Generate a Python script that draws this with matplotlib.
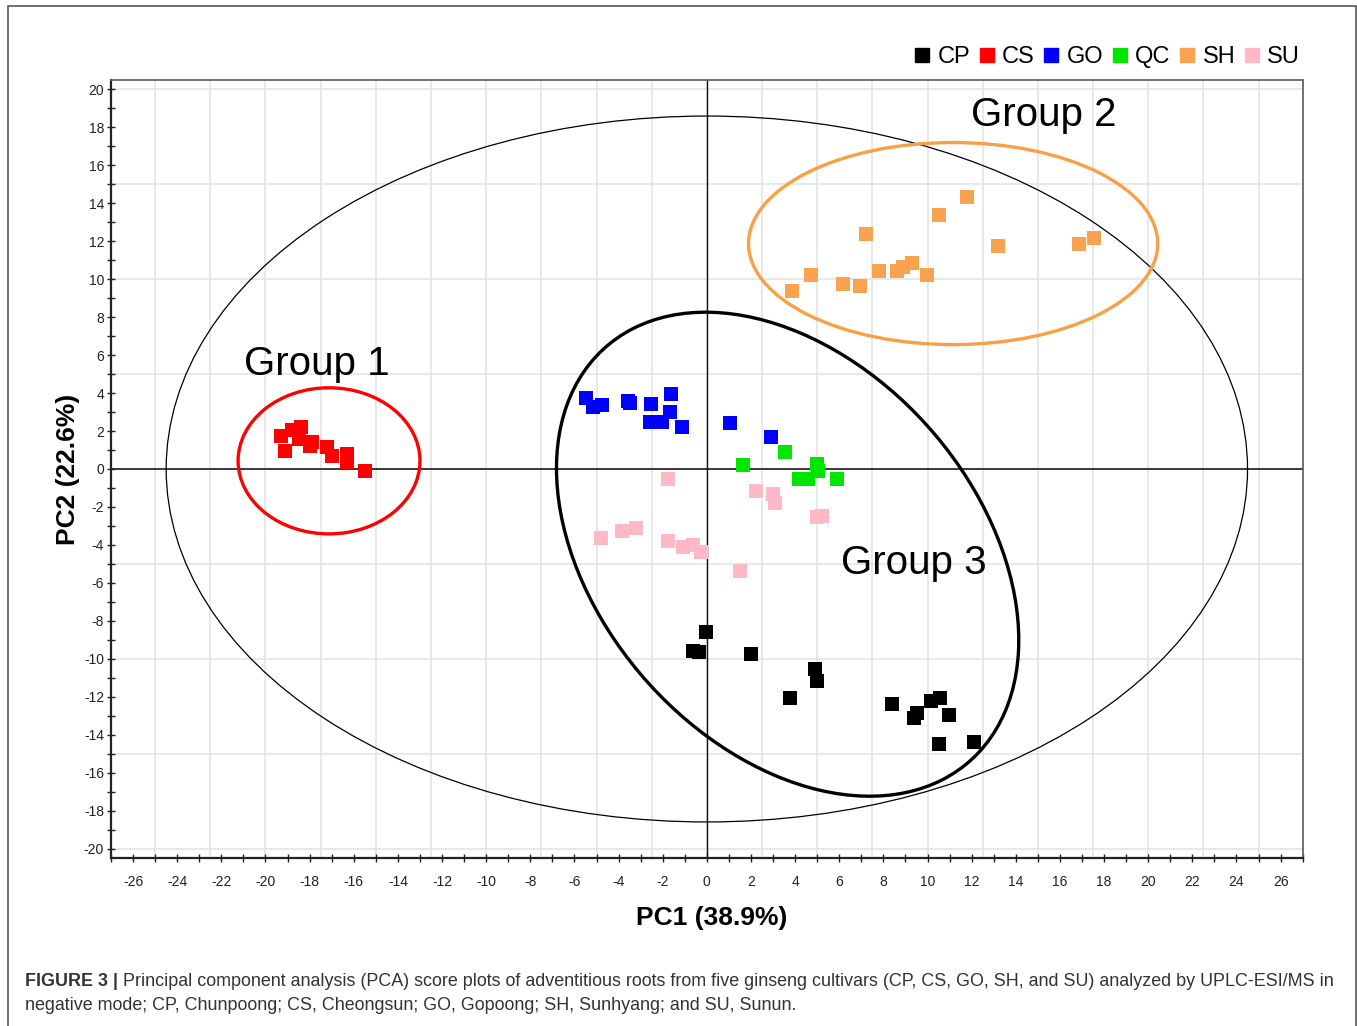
import matplotlib
matplotlib.use("Agg")
import matplotlib.pyplot as plt
from matplotlib.patches import Ellipse, Rectangle
from matplotlib.lines import Line2D
from matplotlib.ticker import MultipleLocator

plt.rcParams['font.family'] = ['Liberation Sans', 'DejaVu Sans']
plt.rcParams['axes.unicode_minus'] = False

# ---- data (PC1, PC2 scores) ----
cp_x = [-0.05, -0.65, -0.35, 2.02, 4.88, 4.98, 3.75, 8.39, 9.40, 9.50, 10.15, 10.56, 10.98, 10.50, 12.11]
cp_y = [-8.57, -9.59, -9.64, -9.76, -10.55, -11.17, -12.05, -12.37, -13.10, -12.84, -12.23, -12.05, -12.98, -14.48, -14.39]

cs_x = [-19.3, -19.1, -18.8, -18.4, -18.5, -18.0, -17.9, -17.2, -17.0, -16.3, -16.3, -15.5]
cs_y = [1.74, 0.95, 2.06, 2.20, 1.60, 1.20, 1.40, 1.16, 0.70, 0.80, 0.35, -0.10]

go_x = [-5.47, -5.16, -4.76, -3.56, -3.48, -2.54, -1.63, -1.67, -2.58, -2.05, -1.14, 1.04, 2.89]
go_y = [3.73, 3.26, 3.38, 3.60, 3.48, 3.43, 3.96, 3.02, 2.46, 2.46, 2.20, 2.41, 1.67]

qc_x = [3.52, 1.64, 4.98, 5.03, 4.17, 4.58, 5.89]
qc_y = [0.88, 0.23, 0.26, -0.09, -0.53, -0.53, -0.53]

sh_x = [3.87, 4.70, 6.19, 6.96, 7.22, 7.79, 8.62, 8.87, 9.29, 9.97, 10.53, 11.81, 13.19, 16.85, 17.56]
sh_y = [9.36, 10.24, 9.76, 9.64, 12.36, 10.41, 10.46, 10.64, 10.87, 10.24, 13.37, 14.34, 11.73, 11.84, 12.19]

su_x = [-1.75, -4.80, -3.85, -3.22, -1.75, -1.07, -0.62, -0.28, 1.52, 2.21, 3.00, 3.07, 4.98, 5.23]
su_y = [-0.53, -3.61, -3.25, -3.13, -3.82, -4.13, -3.99, -4.36, -5.37, -1.14, -1.32, -1.79, -2.55, -2.46]

groups = ["CP", "CS", "GO", "QC", "SH", "SU"]
colors = ["#000000", "#FF0000", "#0000FF", "#00E600", "#F9A24F", "#FFB8C6"]
xs = [cp_x, cs_x, go_x, qc_x, sh_x, su_x]
ys = [cp_y, cs_y, go_y, qc_y, sh_y, su_y]

# ellipses: (cx, cy, width, height, angle)
t2_ellipse = (0.0, 0.0, 49.0, 37.2, 0.0)
g1_ellipse = (-17.12, 0.43, 8.24, 7.70, 0.0)
g2_ellipse = (11.16, 11.88, 18.54, 10.65, 0.0)
g3_ellipse = (3.66, -4.49, 27.6, 18.1, -59.6)

group_labels = ["Group 1", "Group 2", "Group 3"]
group_label_pos = [(-17.67, 5.54), (15.27, 18.63), (9.40, -4.96)]

caption_bold = "FIGURE 3 |"
caption_line1 = " Principal component analysis (PCA) score plots of adventitious roots from five ginseng cultivars (CP, CS, GO, SH, and SU) analyzed by UPLC-ESI/MS in"
caption_line2 = "negative mode; CP, Chunpoong; CS, Cheongsun; GO, Gopoong; SH, Sunhyang; and SU, Sunun."

W, H = 1357, 1026
fig = plt.figure(figsize=(W / 100, H / 100), dpi=100)
ax = fig.add_axes([111 / W, 1 - 858 / H, (1302.7 - 111) / W, (858 - 80) / H])

ax.set_xlim(-27, 27)
ax.set_ylim(-20.5, 20.5)

# grid
for gx in [i * 2.5 for i in range(-10, 11)]:
    ax.axvline(gx, color="#e4e4e4", lw=1.2, zorder=0)
for gy in [i * 5 for i in range(-4, 5)]:
    ax.axhline(gy, color="#e4e4e4", lw=1.2, zorder=0)

ax.axhline(0, color="#3a3a3a", lw=1.4, zorder=1)
ax.axvline(0, color="#111111", lw=1.0, zorder=1)

# ellipses
cx, cy, w, h, a = t2_ellipse
ax.add_patch(Ellipse((cx, cy), w, h, angle=a, fill=False, ec="black", lw=0.9, zorder=2))
cx, cy, w, h, a = g1_ellipse
ax.add_patch(Ellipse((cx, cy), w, h, angle=a, fill=False, ec="#FF0000", lw=2.4, zorder=2))
cx, cy, w, h, a = g2_ellipse
ax.add_patch(Ellipse((cx, cy), w, h, angle=a, fill=False, ec="#F7A045", lw=2.4, zorder=2))
cx, cy, w, h, a = g3_ellipse
ax.add_patch(Ellipse((cx, cy), w, h, angle=a, fill=False, ec="black", lw=2.4, zorder=2))

for x, y, c in zip(xs, ys, colors):
    ax.scatter(x, y, marker="s", s=88, color=c, linewidths=0, zorder=3)

for lab, (lx, ly) in zip(group_labels, group_label_pos):
    ax.text(lx, ly, lab, fontsize=29, ha="center", va="center", color="black", zorder=4)

# ticks
ax.xaxis.set_major_locator(MultipleLocator(2))
ax.xaxis.set_minor_locator(MultipleLocator(1))
ax.yaxis.set_major_locator(MultipleLocator(2))
ax.yaxis.set_minor_locator(MultipleLocator(1))
ax.tick_params(which="both", direction="inout", length=6, width=1.0, color="#222222")
ax.tick_params(axis="x", which="major", labelsize=10, pad=9, labelcolor="#222222")
ax.tick_params(axis="y", which="major", labelsize=10, pad=2, labelcolor="#222222")
ax.set_xticks([v for v in range(-26, 27, 2)])
ax.set_yticks([v for v in range(-20, 21, 2)])

for side in ["top", "right"]:
    ax.spines[side].set_color("#666666")
    ax.spines[side].set_linewidth(1.3)
for side in ["left", "bottom"]:
    ax.spines[side].set_color("#222222")
    ax.spines[side].set_linewidth(1.6)

ax.set_xlabel("PC1 (38.9%)", fontsize=19, fontweight="bold")
ax.set_ylabel("PC2 (22.6%)", fontsize=19, fontweight="bold")
ax.xaxis.set_label_coords(0.504, -0.062)
ax.yaxis.set_label_coords(-0.026, 0.5)

# legend
handles = [Line2D([], [], marker="s", ls="", color=c, markersize=9.5) for c in colors]
fig.legend(handles, groups, loc="center right", bbox_to_anchor=(1300 / W, 1 - 57 / H),
           ncol=6, frameon=False, fontsize=17, handlelength=0.6, handletextpad=0.35,
           columnspacing=0.4, borderpad=0, borderaxespad=0)

# outer frame
fig.patches.append(Rectangle((8 / W, -0.01), (1356 - 8) / W, 1.01 - 6 / H,
                             transform=fig.transFigure, fill=False, ec="#555555", lw=1.2))

# caption
cap_size = 12.9
tb = fig.text(25 / W, 1 - 982 / H, caption_bold, fontsize=cap_size, fontweight="bold",
              color="#333333", va="center", ha="left")
renderer = fig.canvas.get_renderer()
bb = tb.get_window_extent(renderer)
fig.text(bb.x1 / W, 1 - 982 / H, caption_line1, fontsize=cap_size, color="#333333", va="center", ha="left")
fig.text(25 / W, 1 - 1006 / H, caption_line2, fontsize=cap_size, color="#333333", va="center", ha="left")

fig.savefig("out.png", dpi=100)
